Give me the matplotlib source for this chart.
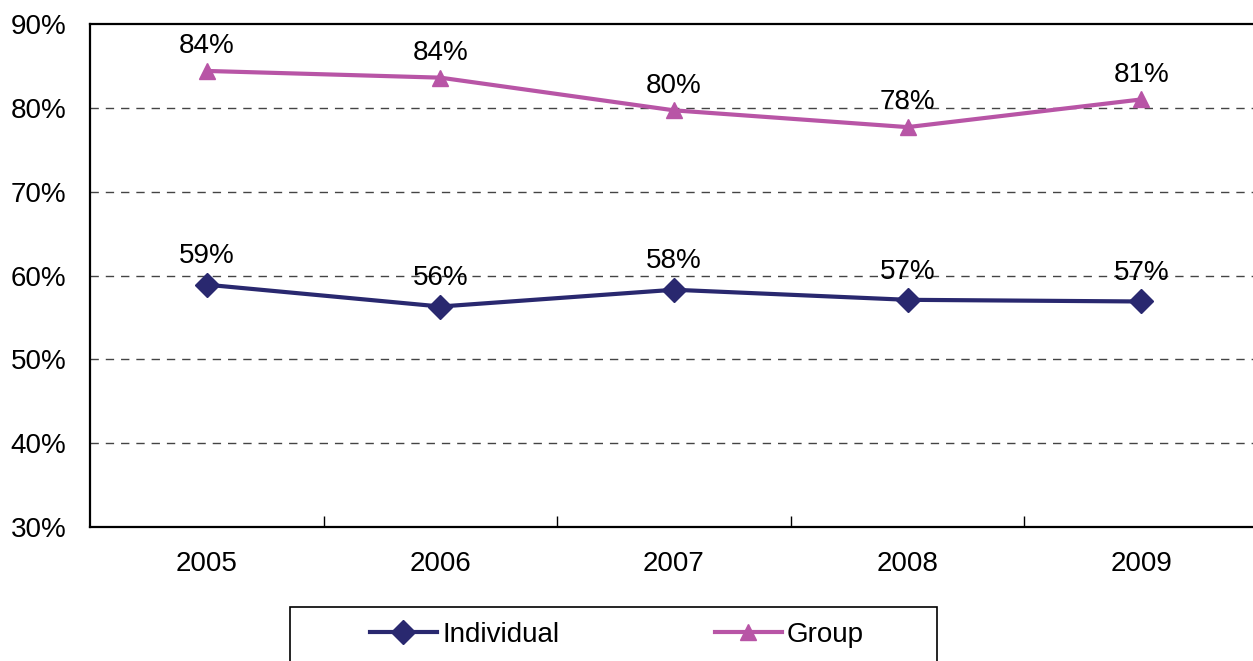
import numpy as np
import matplotlib.pyplot as plt
from matplotlib.ticker import FixedLocator
from matplotlib.patches import Rectangle

plt.rcParams['font.family'] = ['Liberation Sans', 'DejaVu Sans']

# Data
years = ['2005', '2006', '2007', '2008', '2009']
individual = [58.9, 56.3, 58.3, 57.1, 56.9]
group = [84.4, 83.6, 79.7, 77.7, 81.0]
individual_labels = ['59%', '56%', '58%', '57%', '57%']
group_labels = ['84%', '84%', '80%', '78%', '81%']

navy = '#29286F'
pink = '#B855A6'
fs = 20

fig = plt.figure(figsize=(12.53, 6.61), dpi=100)
ax = fig.add_axes([90 / 1253, 134 / 661, 1168 / 1253, 503 / 661])

x = np.arange(len(years))
ax.plot(x, individual, color=navy, lw=3, marker='D', markersize=12,
        label='Individual', zorder=3)
ax.plot(x, group, color=pink, lw=3, marker='^', markersize=12,
        label='Group', zorder=3)

for xi, yi, lab in zip(x, individual, individual_labels):
    ax.annotate(lab, (xi, yi), textcoords='offset points', xytext=(0, 11),
                ha='center', va='bottom', fontsize=fs)
for xi, yi, lab in zip(x, group, group_labels):
    ax.annotate(lab, (xi, yi), textcoords='offset points', xytext=(0, 8.5),
                ha='center', va='bottom', fontsize=fs)

ax.set_xlim(-0.5, 4.5)
ax.set_ylim(30, 90)
ax.set_yticks(np.arange(30, 91, 10))
ax.set_yticklabels([f'{v}%' for v in range(30, 91, 10)], fontsize=fs)
ax.set_xticks(x)
ax.set_xticklabels(years, fontsize=fs)
ax.xaxis.set_minor_locator(FixedLocator([0.5, 1.5, 2.5, 3.5]))
ax.tick_params(axis='x', which='major', length=0, pad=17)
ax.tick_params(axis='x', which='minor', direction='in', length=8, width=1, color='black')
ax.tick_params(axis='y', length=0, pad=17)

for v in range(40, 90, 10):
    ax.axhline(v, color='#444444', lw=1, ls=(0, (6, 5)), zorder=1)

for s in ['top', 'left', 'bottom', 'right']:
    ax.spines[s].set_linewidth(1.6)
    ax.spines[s].set_color('black')

# legend box (cut off at the bottom of the image)
fig.patches.append(Rectangle((290 / 1253, -0.05), 647 / 1253, 54 / 661 + 0.05,
                             transform=fig.transFigure, fill=False,
                             edgecolor='black', lw=1.2))
leg = fig.legend(loc='center left', bbox_to_anchor=(370 / 1253, 1 - 635 / 661),
                 ncol=2, fontsize=fs, frameon=False, handlelength=2.4,
                 handletextpad=0.2, borderpad=0, borderaxespad=0,
                 columnspacing=5.6)

fig.savefig('out.png', dpi=100)
